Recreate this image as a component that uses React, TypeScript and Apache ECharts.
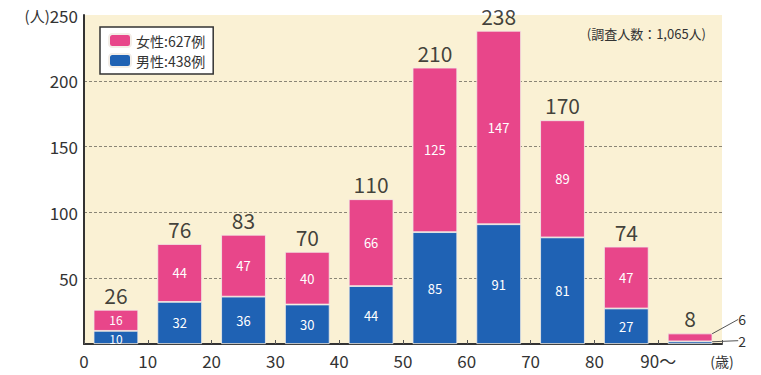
import React, { useEffect, useRef } from "react";
import * as echarts from "echarts";

const categories = ["0-10", "10-20", "20-30", "30-40", "40-50", "50-60", "60-70", "70-80", "80-90", "90~"];
const male = [10, 32, 36, 30, 44, 85, 91, 81, 27, 2];
const female = [16, 44, 47, 40, 66, 125, 147, 89, 47, 6];
const totals = [26, 76, 83, 70, 110, 210, 238, 170, 74, 8];
const yTicks = [0, 50, 100, 150, 200, 250];
const xTickLabels: Record<number, string> = { 0: "0", 10: "10", 20: "20", 30: "30", 40: "40", 50: "50", 60: "60", 70: "70", 80: "80", 90: "90～", 100: "(歳)" };

const PINK = "#e8468a";
const BLUE = "#1f62b4";
const FONT = "'Noto Sans CJK JP', 'Noto Sans', sans-serif";

export default function App() {
  const ref = useRef<HTMLDivElement>(null);
  useEffect(() => {
    const chart = echarts.init(ref.current!, null, { renderer: "svg" });
    const last = categories.length - 1;
    const outsideLabel = { show: true, color: "#333", fontSize: 14, fontFamily: FONT };
    chart.setOption({
      animation: false,
      textStyle: { fontFamily: FONT },
      grid: {
        left: 84, right: 39, top: 15, bottom: 31,
        show: true, backgroundColor: "#faf1d4", borderWidth: 0,
      },
      title: {
        text: "(調査人数：1,065人)",
        right: 50, top: 22,
        textStyle: { fontSize: 13, fontWeight: "normal", color: "#333", fontFamily: FONT },
      },
      legend: {
        data: ["女性:627例", "男性:438例"],
        orient: "vertical",
        left: 100, top: 27,
        padding: [6, 8, 6, 8],
        itemGap: 5,
        itemWidth: 22, itemHeight: 13,
        borderColor: "#333", borderWidth: 1.5, borderRadius: 0,
        backgroundColor: "#ffffff",
        textStyle: { fontSize: 14, color: "#333", fontFamily: FONT },
      },
      xAxis: [
        {
          type: "category",
          data: categories,
          axisLine: { lineStyle: { color: "#333", width: 2 } },
          axisTick: { show: false },
          axisLabel: { show: false },
        },
        {
          type: "value",
          min: 0, max: 100, interval: 10,
          position: "bottom",
          axisLine: { show: false },
          axisTick: { show: true, inside: true, length: 4, lineStyle: { color: "#555" } },
          splitLine: { show: false },
          axisLabel: {
            fontSize: 17, color: "#333", margin: 8,
            formatter: (v: number) => (v === 100 ? "{s|(歳)}" : xTickLabels[v] ?? ""),
            rich: { s: { fontSize: 14, color: "#333", padding: [2, 0, 0, 0] } },
          },
        },
      ],
      yAxis: {
        type: "value",
        min: 0, max: 250, interval: 50,
        axisLine: { show: true, lineStyle: { color: "#333", width: 2 } },
        axisTick: { show: false },
        axisLabel: {
          fontSize: 17, color: "#333", margin: 6,
          formatter: (v: number) => (v === 0 ? "" : v === yTicks[yTicks.length - 1] ? "{s|(人)}" + v : String(v)),
          rich: { s: { fontSize: 15, color: "#333" } },
        },
        splitLine: {
          show: true, showMinLine: false, showMaxLine: false,
          lineStyle: { type: [3, 2], color: "#8a8576", width: 1 },
        },
      },
      series: [
        {
          name: "男性:438例",
          type: "bar",
          stack: "a",
          barCategoryGap: "30%",
          itemStyle: { color: BLUE, borderColor: "#f3eee8", borderWidth: 0.8 },
          label: { show: true, position: "inside", color: "#fff", fontSize: 13 },
          labelLine: { show: true, lineStyle: { color: "#555", width: 1 } },
          labelLayout: (p: any) =>
            p.dataIndex === last ? { dx: 52, dy: -2 } : p.dataIndex === 0 ? { dy: 1 } : {},
          data: male.map((v, i) =>
            i === last ? { value: v, label: outsideLabel } : i === 0 ? { value: v, label: { fontSize: 12 } } : v
          ),
        },
        {
          name: "女性:627例",
          type: "bar",
          stack: "a",
          barCategoryGap: "30%",
          itemStyle: { color: PINK, borderColor: "#f3eee8", borderWidth: 0.8 },
          label: { show: true, position: "inside", color: "#fff", fontSize: 13 },
          labelLine: { show: true, lineStyle: { color: "#555", width: 1 } },
          labelLayout: (p: any) =>
            p.dataIndex === last ? { dx: 52, dy: -18 } : p.dataIndex === 0 ? { dy: -1 } : {},
          data: female.map((v, i) =>
            i === last ? { value: v, label: outsideLabel } : i === 0 ? { value: v, label: { fontSize: 12 } } : v
          ),
        },
        {
          name: "total",
          type: "scatter",
          symbolSize: 0,
          silent: true,
          label: {
            show: true, position: "top", distance: 4,
            fontSize: 21, color: "#111", fontWeight: "normal", lineHeight: 22,
            formatter: (p: any) => String(p.value[1]),
          },
          data: totals.map((t, i) => [i, t]),
        },
      ],
    });
    return () => chart.dispose();
  }, []);
  return <div ref={ref} style={{ position: "absolute", left: 0, top: 0, width: 761, height: 375 }} />;
}
